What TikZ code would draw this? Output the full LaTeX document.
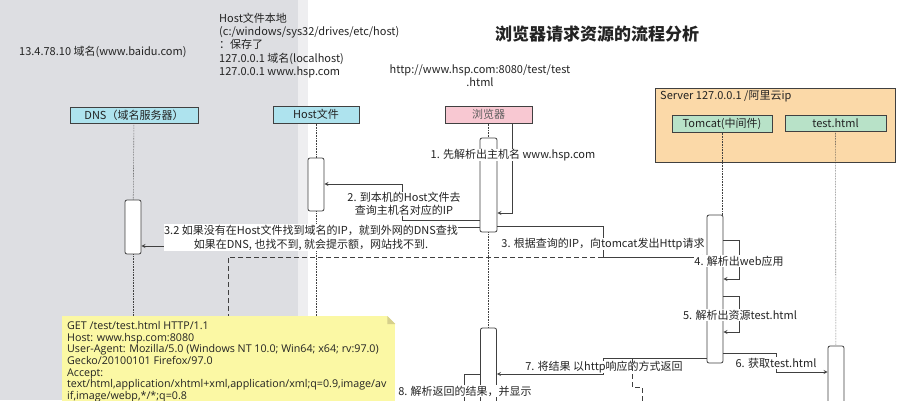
\documentclass[tikz,border=0pt]{standalone}
\usepackage{fontspec}
\setmainfont{Noto Sans CJK SC}
\newfontfamily\notefont{Open Sans}
\usepackage{xcolor}
\usepackage{tikz}
\usetikzlibrary{shapes,arrows,positioning}
\definecolor{diagline}{RGB}{64,64,64}
\definecolor{diagtext}{RGB}{35,35,35}
\definecolor{leftgray}{RGB}{221,222,226}
\definecolor{stripgray}{RGB}{238,238,240}
\definecolor{dnscyan}{RGB}{174,227,238}
\definecolor{browserpink}{RGB}{248,200,210}
\definecolor{serverorange}{RGB}{251,217,168}
\definecolor{tomcatgreen}{RGB}{184,226,200}
\definecolor{noteyellow}{RGB}{251,248,164}
\definecolor{notefold}{RGB}{214,208,140}

\begin{document}
\begin{tikzpicture}[x=1pt, y=-1pt, font=\fontsize{11}{13.2}\selectfont, text=diagtext]
    \tikzstyle{actor} = [rectangle, draw=diagline, line width=1pt, inner sep=0pt, text centered]
    \tikzstyle{bar} = [rectangle, rounded corners=2pt, draw=diagline, line width=0.8pt, fill=white, inner sep=0pt, minimum width=16pt]
    \tikzstyle{lifeline} = [diagline, densely dotted, line width=0.6pt]
    \tikzstyle{msg} = [diagline, line width=0.8pt]
    \tikzstyle{arrow} = [msg, ->, >=stealth]
    \tikzstyle{dashmsg} = [msg, dash pattern=on 5pt off 3pt]
    \tikzstyle{msglabel} = [fill=white, inner sep=0.5pt, align=center]

    \useasboundingbox (0,0) rectangle (898,400);
    \fill[leftgray] (0,0) rectangle (298,400);
    \fill[stripgray] (298,0) rectangle (308,400);

    \node (title) at (597,34) {\fontsize{17}{20}\selectfont\bfseries 浏览器请求资源的流程分析};
    \node[anchor=west, inner sep=0pt] (baidu) at (19,52) {13.4.78.10 域名(www.baidu.com)};
    \node[anchor=north west, align=left, inner sep=0pt] (hostinfo) at (219,13) {Host文件本地\\(c:/windows/sys32/drives/etc/host)\\：保存了\\127.0.0.1 域名(localhost)\\127.0.0.1 www.hsp.com};
    \node[align=center, inner sep=0pt] (url) at (480,75.5) {http://www.hsp.com:8080/test/test\\.html};

    \node[actor, fill=dnscyan, minimum width=128pt, minimum height=16pt] (dns) at (134,115) {DNS（域名服务器）};
    \node[actor, fill=dnscyan, minimum width=86pt, minimum height=17pt] (host) at (316,114.5) {Host文件};
    \node[actor, fill=browserpink, minimum width=87pt, minimum height=17pt, text=diagline!85] (browser) at (488.5,114.5) {浏览器};
    \node[actor, fill=serverorange, minimum width=240pt, minimum height=74pt] (server) at (775,125) {};
    \node[anchor=north west, inner sep=0pt] (serverip) at (660,90) {Server 127.0.0.1 /阿里云ip};
    \node[actor, fill=tomcatgreen, minimum width=100pt, minimum height=17pt] (tomcat) at (722,123.5) {Tomcat(中间件)};
    \node[actor, fill=tomcatgreen, minimum width=101pt, minimum height=16pt] (testhtml) at (835.5,123) {test.html};

    \node[bar, minimum height=53pt] (hostbar) at (316,184.5) {};
    \node[bar, minimum height=54pt] (dnsbar) at (133,227) {};
    \node[bar, minimum width=17pt, minimum height=94pt] (brbar1) at (488.5,185) {};
    \node[bar, minimum height=148pt] (tcbar) at (715,289) {};
    \node[bar, minimum height=70pt] (testbar) at (836,381) {};
    \node[bar, minimum height=92pt] (brbar2) at (488.5,374) {};

    \draw[lifeline] (dns) -- (dnsbar);
    \draw[lifeline] (dnsbar.south) -- (dnsbar.south |- 0,320);
    \draw[lifeline] (host) -- (hostbar);
    \draw[lifeline] (hostbar.south) -- (hostbar.south |- 0,320);
    \draw[lifeline] (browser) -- (brbar1);
    \draw[lifeline] (brbar1) -- (brbar2);
    \draw[lifeline] (tomcat.south) -- (tomcat.south |- tcbar.north);
    \draw[lifeline] (testhtml) -- (testbar);

    \coordinate (turn3) at (603,257);
    \coordinate (end8) at (464,410);

    \draw[arrow] (browser.south -| 512,0) -- (512,213) -- (brbar1.east |- 0,213);
    \draw[arrow] (brbar1.west |- 0,220) -- (402,220) -- (402,184) -- (hostbar.east |- 0,184);
    \draw[arrow] (brbar1.west |- 0,227) -- (170,227) -- (170,246) -- (dnsbar.east |- 0,246);
    \draw[arrow] (brbar1.east |- 0,226) -- (turn3 |- 0,226) -- (turn3) -- (tcbar.west |- turn3);
    \draw[dashmsg] (turn3) -- (228,257) -- (228,320);
    \draw[arrow] (tcbar.east |- 0,240) -- (739,240) -- (739,279) -- (tcbar.east |- 0,279);
    \draw[arrow] (tcbar.east |- 0,296) -- (739,296) -- (739,332) -- (tcbar.east |- 0,332);
    \draw[arrow] (tcbar.east |- 0,353) -- (776,353) -- (776,372) -- (testbar.west |- 0,372);
    \draw[arrow] (tcbar.west |- 0,358) -- (603,358) -- (603,374) -- (brbar2.east |- 0,374);
    \draw[msg] (brbar2.west |- 0,374) -- (end8 |- 0,374) -- (end8);

    \node[msglabel] (m1) at (513,155) {1. 先解析出主机名 www.hsp.com};
    \node[msglabel] (m2) at (404,204) {2. 到本机的Host文件去\\查询主机名对应的IP};
    \node[msglabel] (m32) at (311,237.5) {3.2 如果没有在Host文件找到域名的IP，就到外网的DNS查找\\[1pt]如果在DNS, 也找不到, 就会提示额，网站找不到.};
    \node[msglabel] (m3) at (603,244) {3. 根据查询的IP，向tomcat发出Http请求};
    \node[msglabel] (m4) at (739,261) {4. 解析出web应用};
    \node[msglabel] (m5) at (740,315) {5. 解析出资源test.html};
    \node[msglabel] (m6) at (776,363) {6. 获取test.html};
    \node[msglabel] (m7) at (604,367) {7. 将结果 以http响应的方式返回};
    \node[msglabel] (m8) at (465,391) {8. 解析返回的结果，并显示};

    \draw[dashmsg] (632,358) -- (632,387) -- (642,387) -- (642,410);

    \node[anchor=north west, fill=noteyellow, minimum width=333pt, minimum height=100pt, inner sep=0pt] (note) at (62,316) {};
    \fill[white] (note.north east) -- ++(-8,0) -- ++(8,8) -- cycle;
    \fill[notefold] ([xshift=-8pt]note.north east) -- ++(0,8) -- ++(8,0) -- cycle;
    \node[anchor=north west, align=left, inner sep=0pt, font=\notefont\fontsize{10.7}{11.7}\selectfont] (notetext) at ([xshift=5pt, yshift=-5pt]note.north west) {GET /test/test.html HTTP/1.1\\Host: www.hsp.com:8080\\User-Agent: Mozilla/5.0 (Windows NT 10.0; Win64; x64; rv:97.0)\\Gecko/20100101 Firefox/97.0\\Accept:\\text/html,application/xhtml+xml,application/xml;q=0.9,image/av\\if,image/webp,*/*;q=0.8};
\end{tikzpicture}
\end{document}
